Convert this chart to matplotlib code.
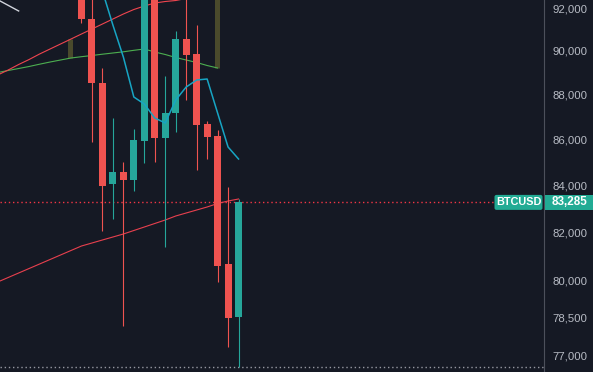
import matplotlib
matplotlib.use("Agg")
import matplotlib.pyplot as plt
from matplotlib.ticker import FixedLocator, FixedFormatter, NullLocator
from matplotlib.patches import Rectangle, FancyBboxPatch
from matplotlib.transforms import IdentityTransform

# ---------------- data ----------------
candle_idx = list(range(16))
opens  = [96300, 91483, 88535, 84073, 84591, 84245, 85944, 94200, 86076, 87185, 90551, 89859, 86695, 86164, 80699, 78539]
highs  = [96500, 92500, 89217, 86962, 85025, 86474, 95000, 94400, 88852, 90923, 92800, 91203, 86829, 86430, 83944, 83430]
lows   = [91296, 85900, 82074, 82580, 78178, 83772, 84982, 85025, 81405, 86341, 87767, 84678, 85156, 79959, 77342, 76554]
closes = [91483, 88535, 83987, 84591, 84245, 85988, 94200, 86076, 87185, 90551, 89813, 86651, 86120, 80617, 78499, 83285]

ma_idx = list(range(-8, 14))
ma_red_upper = [88898, 89126, 89377, 89606, 89859, 90089, 90320, 90551, 90784, 91016, 91249,
                91483, 91718, 91929, 92094, 92236, 92307, 92354, 92449, 92567, 92662, 92757]
ma_green = [89012, 89103, 89194, 89286, 89391, 89491, 89583, 89675, 89735, 89790, 89850,
            89905, 89960, 90029, 90089, 89951, 89836, 89698, 89583, 89469, 89331, 89217]

ma_long_idx = list(range(-8, 16))
ma_red_lower = [79959, 80143, 80328, 80513, 80699, 80885, 81072, 81259, 81446, 81571, 81697, 81822,
                81948, 82095, 82242, 82390, 82538, 82707, 82834, 82961, 83089, 83238, 83344, 83430]

fast_idx = list(range(2, 16))
fast_line = [92803, 91203, 89721, 87902, 87588, 86962, 86740, 87767, 88353, 88671, 88716, 87185, 85680, 85156]

trend_idx = [-8, -6]
trend_line = [92392, 91860]

olive_idx = [-1, 13]

symbol = "BTCUSD"
last_price = closes[-1]
last_low = lows[-1]

y_ticks = [92000, 90000, 88000, 86000, 84000, 82000, 80000, 78500, 77000]
y_labels = ["92,000", "90,000", "88,000", "86,000", "84,000", "82,000", "80,000", "78,500", "77,000"]

# ---------------- style ----------------
BG = "#151924"
UP = "#26a69a"
DOWN = "#ef5350"

W, H = 593, 372
fig = plt.figure(figsize=(W / 100, H / 100), dpi=100, facecolor=BG)
ax = fig.add_axes([0, 0, 544 / W, 1])
ax.set_facecolor(BG)
ax.set_yscale("log")
ax.set_xlim(-7.78, 44.17)
ax.set_ylim(76358, 92378)

# moving average / indicator lines
ax.plot(ma_long_idx, ma_red_lower, color="#e8404e", lw=0.8, zorder=2)
ax.plot(ma_idx, ma_green, color="#4caf50", lw=0.8, zorder=2)
ax.plot(ma_idx, ma_red_upper, color="#f0454f", lw=0.8, zorder=2)
ax.plot(trend_idx, trend_line, color="#d1d4dc", lw=1.0, zorder=2)

# olive bars between upper red and green lines
for oi in olive_idx:
    k = ma_idx.index(oi)
    ax.vlines(oi - 0.1, ma_green[k], ma_red_upper[k], color="#4a4a2c", lw=3.6, zorder=1.5)

# candles
for i, o, h, l, c in zip(candle_idx, opens, highs, lows, closes):
    col = UP if c >= o else DOWN
    ax.vlines(i, l, h, color=col, lw=0.8, zorder=3)
    ax.bar(i, abs(c - o), bottom=min(o, c), width=0.67, color=col, linewidth=0, zorder=4)

ax.plot(fast_idx, fast_line, color="#17a5c4", lw=1.1, zorder=5)

# price lines
ax.axhline(last_price, xmin=0, xmax=494 / 544, color="#f23645", lw=1.0,
           linestyle=(0, (1, 2)), zorder=1)
ax.axhline(last_low, color="#9598a1", lw=1.0, linestyle=(0, (1, 2)), zorder=1)

# axes styling
for s in ["top", "left", "bottom"]:
    ax.spines[s].set_visible(False)
ax.spines["right"].set_color("#4c505b")
ax.spines["right"].set_linewidth(0.8)
ax.xaxis.set_major_locator(NullLocator())
ax.xaxis.set_minor_locator(NullLocator())
ax.yaxis.tick_right()
ax.yaxis.set_major_locator(FixedLocator(y_ticks))
ax.yaxis.set_major_formatter(FixedFormatter(y_labels))
ax.yaxis.set_minor_locator(NullLocator())
ax.tick_params(axis="y", length=0, pad=6.2, labelsize=8.2, labelcolor="#b8bcc5")
for lab in ax.get_yticklabels():
    lab.set_fontfamily("Liberation Sans")

# label boxes for the last price
fig.canvas.draw()
y_disp = ax.transData.transform((0, last_price))[1]
box1 = FancyBboxPatch((494.5, y_disp - 7.5), 48, 15, boxstyle="round,pad=0,rounding_size=2",
                      transform=IdentityTransform(), fc="#22ab94", ec="none", zorder=10)
fig.patches.append(box1)
box2 = Rectangle((545, y_disp - 7.5), 48, 15, transform=IdentityTransform(),
                 fc="#22ab94", ec="none", zorder=10)
fig.patches.append(box2)
fig.text(518.5 / W, y_disp / H, symbol, color="white", fontsize=7.8, fontweight="bold",
         family="Liberation Sans", ha="center", va="center", zorder=11)
fig.text(570 / W, y_disp / H, f"{last_price:,}", color="white", fontsize=8.4, fontweight="bold",
         family="Liberation Sans", ha="center", va="center", zorder=11)

fig.savefig("out.png", dpi=100, facecolor=BG)
